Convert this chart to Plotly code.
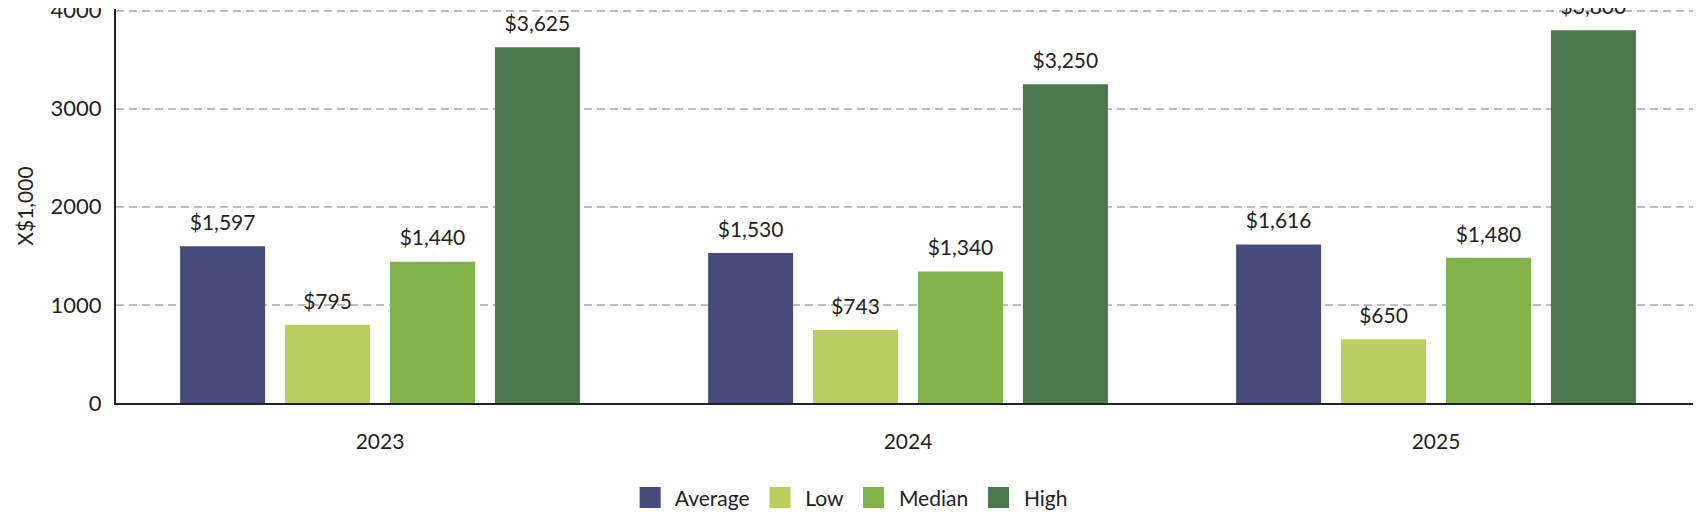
import plotly.graph_objects as go

years = ["2023", "2024", "2025"]
series_names = ["Average", "Low", "Median", "High"]
average = [1597, 1530, 1616]
low = [795, 743, 650]
median = [1440, 1340, 1480]
high = [3625, 3250, 3800]
colors = ["#464a7c", "#bacf60", "#82b34b", "#4b784d"]
y_ticks = [0, 1000, 2000, 3000, 4000]

FONT = "Lato"
TXT = "#222222"
GAP = 0.205
NB = "\u00a0"
fig = go.Figure()
all_vals = [average, low, median, high]
for i, (name, vals, col) in enumerate(zip(series_names, all_vals, colors)):
    fig.add_trace(go.Bar(
        x=years, y=vals, name=name, marker_color=col, marker_line_width=0,
        offsetgroup=str(i), showlegend=False, hoverinfo="skip",
    ))
for i, (name, vals) in enumerate(zip(series_names, all_vals)):
    fig.add_trace(go.Scatter(
        x=years, y=vals, mode="markers+text", offsetgroup=str(i),
        marker=dict(size=16, color="rgba(0,0,0,0)"),
        text=["$" + format(v, ",") for v in vals], textposition="top center",
        textfont=dict(family=FONT, size=21, color=TXT),
        cliponaxis=False, showlegend=False, hoverinfo="skip",
    ))
# legend entries
for name, col in zip(series_names, colors):
    fig.add_trace(go.Scatter(
        x=[None], y=[None], name=NB + name + NB, mode="markers", xaxis="x2", yaxis="y2",
        marker=dict(symbol="square", size=16, color=col, line=dict(color=col, width=5)),
    ))

fig.update_layout(
    width=1701, height=523,
    margin=dict(l=108, r=9, t=1, b=128, autoexpand=False),
    plot_bgcolor="white", paper_bgcolor="white",
    barmode="group", bargap=GAP, bargroupgap=0.19,
    scattermode="group", scattergap=GAP,
    font=dict(family=FONT, size=21, color=TXT),
    legend=dict(orientation="h", x=0.466, xanchor="center", y=-0.241, yanchor="middle",
                font=dict(family=FONT, size=21, color=TXT), itemsizing="trace"),
    xaxis=dict(
        range=[-0.5, 2.5], showline=True, linecolor=TXT, linewidth=2,
        showgrid=False, ticks="", ticklabelstandoff=19, automargin=False,
        tickfont=dict(family=FONT, size=21, color=TXT),
    ),
    yaxis=dict(
        range=[0, 4016], tickvals=y_ticks, tickformat="d", automargin=False,
        showline=True, linecolor=TXT, linewidth=2, ticklabeloverflow="allow",
        showgrid=True, gridcolor="#bdbdbd", griddash="8px,5px", gridwidth=1.5,
        zeroline=False, ticks="", ticklabelstandoff=8,
        title=dict(text="X$1,000", font=dict(family=FONT, size=21, color=TXT), standoff=11),
        tickfont=dict(family=FONT, size=22, color=TXT),
    ),
    xaxis2=dict(overlaying="x", visible=False, range=[0, 1]),
    yaxis2=dict(overlaying="y", visible=False, range=[0, 1]),
)
fig.write_html("out.html")
